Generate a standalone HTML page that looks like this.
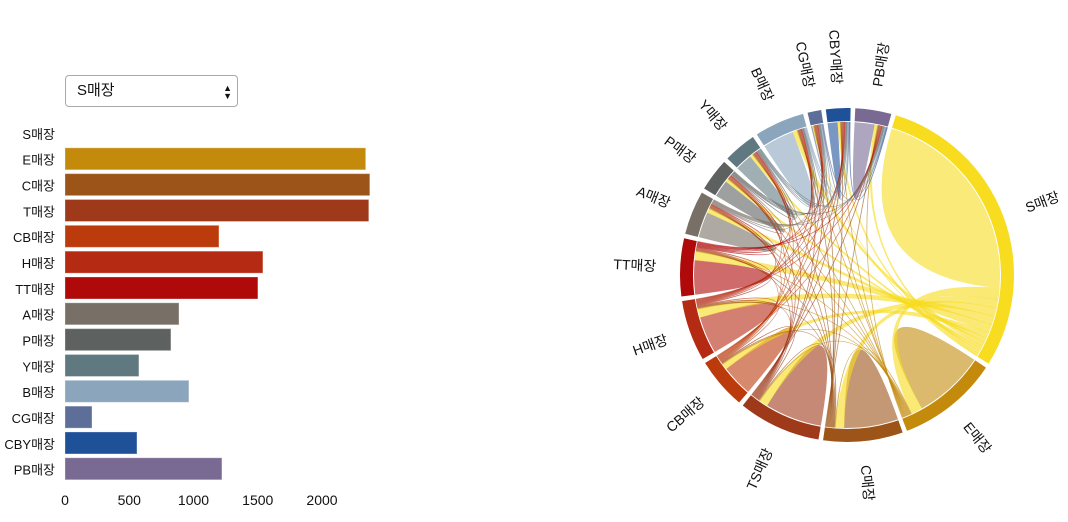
<!DOCTYPE html>
<html><head><meta charset="utf-8">
<style>
html,body{margin:0;padding:0;background:#fff;width:1068px;height:522px;overflow:hidden;font-family:"Liberation Sans","Noto Sans CJK KR",sans-serif;}
#sel{position:absolute;left:65px;top:75px;width:173px;height:32px;border:1px solid #a9a9a9;border-radius:4px;box-sizing:border-box;background:#fff;font-size:15px;line-height:30px;padding-left:11px;color:#111;}
#sel .arr{position:absolute;right:5px;top:8px;font-size:9px;line-height:8px;text-align:center;}
svg{position:absolute;left:0;top:0;}
text{font-family:"Liberation Sans","Noto Sans CJK KR",sans-serif;}
</style></head><body>
<div id="sel">S매장<span class="arr">▲<br>▼</span></div>
<svg id="svg" width="1068" height="522">
<g id="bars"></g>
<g id="chord" transform="translate(847,275)"></g>
</svg>
<script>
const categories=["S매장","E매장","C매장","T매장","CB매장","H매장","TT매장","A매장","P매장","Y매장","B매장","CG매장","CBY매장","PB매장"];
const barValues=[0,2340,2372,2364,1198,1540,1501,887,824,575,964,210,560,1221];
const tickValues=[0,500,1000,1500,2000];
const colors=["#f7dc1f","#c38a0b","#9c5418","#9e3a1a","#bc3b0d","#b52a13","#b0090a","#787066","#5d6160","#607981","#8ba5bd","#5d6e99","#1f5199","#786a92"];
const chordNames=["S매장","E매장","C매장","TS매장","CB매장","H매장","TT매장","A매장","P매장","Y매장","B매장","CG매장","CBY매장","PB매장"];
const matrix=[
[72,4,3,3,2,3,3,1.5,1,1,1.5,0.3,0.8,1],
[4,25,.3,.3,.3,.3,.3,.3,.3,.3,.3,.3,.3,.3],
[3,.3,19,.3,.3,.3,.3,.3,.3,.3,.3,.3,.3,.3],
[3,.3,.3,20,.3,.3,.3,.3,.3,.3,.3,.3,.3,.3],
[2,.3,.3,.3,11,.3,.3,.3,.3,.3,.3,.3,.3,.3],
[3,.3,.3,.3,.3,13,.3,.3,.3,.3,.3,.3,.3,.3],
[3,.3,.3,.3,.3,.3,12,.3,.3,.3,.3,.3,.3,.3],
[1.5,.3,.3,.3,.3,.3,.3,9,.3,.3,.3,.3,.3,.3],
[1,.3,.3,.3,.3,.3,.3,.3,6,.3,.3,.3,.3,.3],
[1,.3,.3,.3,.3,.3,.3,.3,.3,6,.3,.3,.3,.3],
[1.5,.3,.3,.3,.3,.3,.3,.3,.3,.3,11,.3,.3,.3],
[.3,.3,.3,.3,.3,.3,.3,.3,.3,.3,.3,.5,.3,.3],
[.8,.3,.3,.3,.3,.3,.3,.3,.3,.3,.3,.3,3.5,.3],
[1,.3,.3,.3,.3,.3,.3,.3,.3,.3,.3,.3,.3,7]];
const NS="http://www.w3.org/2000/svg";
function mk(tag,attrs,parent){const e=document.createElementNS(NS,tag);for(const k in attrs)e.setAttribute(k,attrs[k]);parent.appendChild(e);return e;}
// ---- bar chart ----
const bars=document.getElementById('bars');
const x0=65,xPerUnit=(322-65)/2000,rowTop=121,step=25.83,barH=22;
const xs=v=>x0+v*xPerUnit;
categories.forEach((c,i)=>{
  const y=rowTop+i*step;
  const t=mk('text',{x:55,y:y+step/2+5,'text-anchor':'end','font-size':13,fill:'#111'},bars);
  t.textContent=c;
  
  
  if(barValues[i]>0){
    const r=mk('rect',{x:x0,y:y+1,width:xs(barValues[i])-x0,height:barH,fill:colors[i],stroke:'#fff','stroke-opacity':0.3},bars);
    
    
  }
});
tickValues.forEach(v=>{
  const t=mk('text',{x:xs(v),y:505,'text-anchor':'middle','font-size':14,fill:'#111'},bars);
  t.textContent=v;
  
  
});
// ---- chord ----
const g=document.getElementById('chord');
const n=chordNames.length,pad=1.6*Math.PI/180,offset=17*Math.PI/180,rIn=154,rOut=167;
let total=0;matrix.forEach(r=>r.forEach(v=>total+=v));
const k=(2*Math.PI-n*pad)/total;
const groups=[],sub=[];
let a=offset;
for(let i=0;i<n;i++){
  const a0=a;const order=[...Array(n).keys()].sort((p,q)=>matrix[i][q]-matrix[i][p]);
  sub[i]=[];
  order.forEach(j=>{const v=matrix[i][j];sub[i][j]={s:a,e:a+v*k,v:v,index:i};a+=v*k;});
  groups.push({s:a0,e:a});a+=pad;
}
const pt=(r,t)=>[r*Math.sin(t),-r*Math.cos(t)];
function arcPath(r1,r2,s,e){const p1=pt(r2,s),p2=pt(r2,e),p3=pt(r1,e),p4=pt(r1,s),l=(e-s)>Math.PI?1:0;
return `M${p1}A${r2},${r2} 0 ${l} 1 ${p2}L${p3}A${r1},${r1} 0 ${l} 0 ${p4}Z`;}
function ribbon(s,t,r){const s0=pt(r,s.s),s1=pt(r,s.e),t0=pt(r,t.s),t1=pt(r,t.e);
const ls=(s.e-s.s)>Math.PI?1:0,lt=(t.e-t.s)>Math.PI?1:0;
return `M${s0}A${r},${r} 0 ${ls} 1 ${s1}Q0,0 ${t0}A${r},${r} 0 ${lt} 1 ${t1}Q0,0 ${s0}Z`;}
const chords=[];
for(let i=0;i<n;i++)for(let j=i;j<n;j++){
  let s=sub[i][j],t=sub[j][i];
  if(matrix[j][i]>matrix[i][j]){[s,t]=[t,s];}
  chords.push({s,t});
}
chords.sort((p,q)=>(p.s===p.t?0:1)-(q.s===q.t?0:1));
chords.forEach(c=>{
  const col=colors[c.s.index];
  const p=mk('path',{d:ribbon(c.s,c.t,rIn-1),fill:col,'fill-opacity':c.s===c.t?0.6:0.62,stroke:col,'stroke-opacity':0.35,'stroke-width':c.s===c.t?0:0.5},g);
  
  
});
groups.forEach((gr,i)=>{
  const p=mk('path',{d:arcPath(rIn,rOut,gr.s,gr.e),fill:colors[i]},g);
  
  
  const mid=(gr.s+gr.e)/2,deg=mid*180/Math.PI;
  const flip=(deg%360)>180;
  const t=mk('text',{transform:`rotate(${deg-90}) translate(${rOut+24})${flip?' rotate(180)':''}`,dy:'0.35em','text-anchor':flip?'end':'start','font-size':14,fill:'#111'},g);
  t.textContent=chordNames[i];
  
  
});
</script>
</body></html>
